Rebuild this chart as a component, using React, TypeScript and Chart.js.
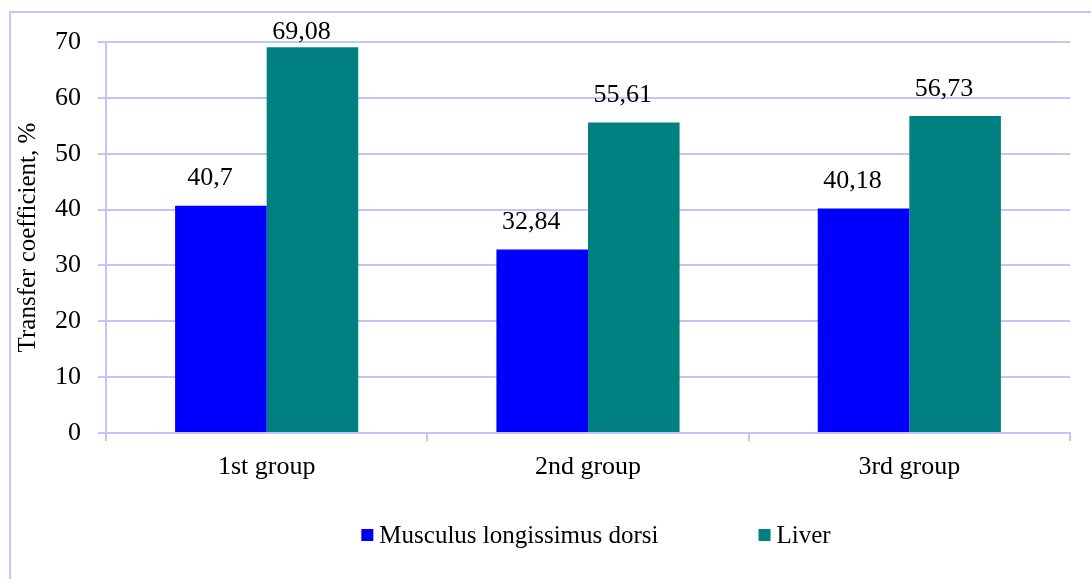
import React, { useEffect, useRef } from "react";
import { Chart, registerables } from "chart.js";

Chart.register(...registerables);

const categories = ["1st group", "2nd group", "3rd group"];
const seriesNames = ["Musculus longissimus dorsi", "Liver"];
const muscleValues = [40.7, 32.84, 40.18];
const liverValues = [69.08, 55.61, 56.73];
const muscleLabels = ["40,7", "32,84", "40,18"];
const liverLabels = ["69,08", "55,61", "56,73"];
const yTicks = [0, 10, 20, 30, 40, 50, 60, 70];

const FONT = "'Liberation Serif', 'Times New Roman', serif";
const LAVENDER = "#c4c4fc";
const COLORS = ["#0000ff", "#008080"];

const framePlugin = {
  id: "frame",
  beforeDraw(chart: any) {
    const ctx = chart.ctx;
    ctx.save();
    ctx.fillStyle = "#ffffff";
    ctx.fillRect(0, 0, chart.width, chart.height);
    ctx.strokeStyle = LAVENDER;
    ctx.lineWidth = 2;
    ctx.strokeRect(10, 12, chart.width + 40, chart.height + 40);
    ctx.restore();
  },
};

const labelsPlugin = {
  id: "valueLabels",
  afterDatasetsDraw(chart: any) {
    const ctx = chart.ctx;
    const labelSets = [muscleLabels, liverLabels];
    ctx.save();
    ctx.font = `26px ${FONT}`;
    ctx.fillStyle = "#000";
    ctx.textAlign = "center";
    ctx.textBaseline = "middle";
    chart.data.datasets.forEach((ds: any, di: number) => {
      const meta = chart.getDatasetMeta(di);
      meta.data.forEach((bar: any, i: number) => {
        const y = Math.max(bar.y - 27, chart.chartArea.top - 10);
        ctx.fillText(labelSets[di][i], bar.x - 11, y);
      });
    });
    ctx.restore();
  },
};

const legendPlugin = {
  id: "customLegend",
  afterDraw(chart: any) {
    const ctx = chart.ctx;
    ctx.save();
    ctx.font = `25px ${FONT}`;
    ctx.textBaseline = "middle";
    const box = 12;
    const gapText = 6;
    const gapItem = 100;
    const widths = seriesNames.map((n) => ctx.measureText(n).width);
    const total =
      widths.reduce((a, w) => a + box + gapText + w, 0) + gapItem * (seriesNames.length - 1);
    let x = 596 - total / 2;
    const y = 535;
    seriesNames.forEach((name, i) => {
      ctx.fillStyle = COLORS[i];
      ctx.fillRect(x, y - box / 2, box, box);
      x += box + gapText;
      ctx.fillStyle = "#000";
      ctx.fillText(name, x, y + 1);
      x += widths[i] + gapItem;
    });
    ctx.restore();
  },
};

export default function App() {
  const ref = useRef<HTMLCanvasElement>(null);

  useEffect(() => {
    document.body.style.margin = "0";
    if (!ref.current) return;
    const chart = new Chart(ref.current, {
      type: "bar",
      data: {
        labels: categories,
        datasets: [
          {
            label: seriesNames[0],
            data: muscleValues,
            backgroundColor: COLORS[0],
            categoryPercentage: 0.57,
            barPercentage: 1,
          },
          {
            label: seriesNames[1],
            data: liverValues,
            backgroundColor: COLORS[1],
            categoryPercentage: 0.57,
            barPercentage: 1,
          },
        ],
      },
      options: {
        responsive: false,
        animation: false,
        layout: { padding: { top: 42, right: 21, left: 0, bottom: 0 } },
        plugins: {
          legend: { display: false },
          tooltip: { enabled: false },
        },
        scales: {
          x: {
            offset: true,
            grid: {
              display: true,
              drawOnChartArea: false,
              drawTicks: true,
              tickLength: 8,
              color: LAVENDER,
              lineWidth: 2,
              offset: true,
            },
            border: { color: LAVENDER, width: 2 },
            ticks: {
              font: { family: FONT, size: 26 },
              color: "#000",
              padding: 11,
            },
            afterFit(scale: any) {
              scale.height = 146;
            },
          },
          y: {
            min: 0,
            max: 70,
            afterBuildTicks(scale: any) {
              scale.ticks = yTicks.map((v) => ({ value: v }));
            },
            grid: {
              color: LAVENDER,
              lineWidth: 2,
              tickLength: 8,
            },
            border: { color: LAVENDER, width: 2 },
            ticks: {
              font: { family: FONT, size: 26 },
              color: "#000",
              padding: 17,
            },
            title: {
              display: true,
              text: "Transfer coefficient, %",
              font: { family: FONT, size: 25 },
              color: "#000",
              padding: { top: 13, bottom: 0 },
            },
            afterFit(scale: any) {
              scale.width = 106;
            },
          },
        },
      },
      plugins: [framePlugin, labelsPlugin, legendPlugin],
    });
    return () => chart.destroy();
  }, []);

  return (
    <div style={{ width: 1091, height: 579 }}>
      <canvas ref={ref} width={1091} height={579} />
    </div>
  );
}
